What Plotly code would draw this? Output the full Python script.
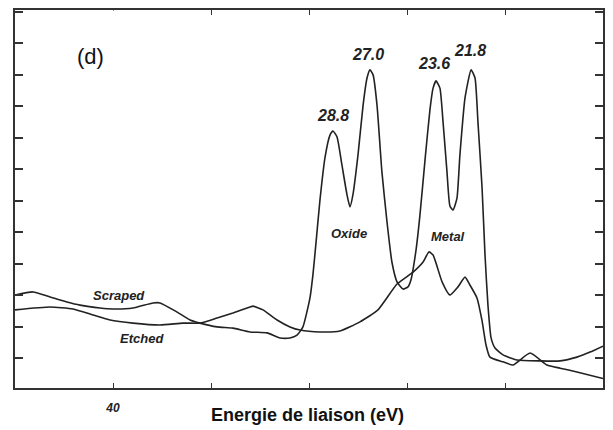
import plotly.graph_objects as go

# binding energy (eV) and intensity (a.u.)
scraped_ev = [45.0, 44.08, 43.21, 42.35, 41.68, 40.66, 40.0, 38.98, 37.96, 37.6, 36.73,
              36.07, 35.56, 34.69, 33.88, 33.01, 32.14, 31.48, 30.97, 30.61, 30.31,
              29.95, 29.8, 29.64, 29.44, 29.18, 28.93, 28.78, 28.57, 28.32, 28.06, 27.91,
              27.76, 27.5, 27.24, 27.04, 26.89, 26.73, 26.53, 26.28, 26.02, 25.77, 25.51,
              25.2, 24.95, 24.8, 24.54, 24.34, 24.08, 23.83, 23.67, 23.52, 23.32, 23.16,
              22.96, 22.81, 22.65, 22.45, 22.3, 22.04, 21.73, 21.53, 21.38, 21.17, 21.02,
              20.87, 20.71, 20.51, 20.1, 19.39, 18.21, 17.19, 16.33, 15.66, 15.0]
scraped_i = [2.95, 3.05, 2.89, 2.73, 2.63, 2.54, 2.51, 2.54, 2.70, 2.70, 2.41,
             2.16, 2.06, 1.94, 1.90, 1.78, 1.75, 1.59, 1.59, 1.68, 1.94,
             2.86, 3.59, 4.63, 5.97, 7.33, 8.03, 8.16, 7.97, 7.08, 6.13, 5.75,
             6.13, 7.40, 8.98, 9.84, 10.1, 9.94, 8.98, 6.86, 5.27, 4.0, 3.37,
             3.14, 3.21, 3.43, 4.38, 5.49, 7.24, 8.83, 9.52, 9.75, 9.52, 8.44,
             6.86, 5.78, 5.65, 6.03, 7.40, 9.21, 10.1, 9.84, 8.44, 6.35, 4.22,
             2.63, 1.59, 1.27, 1.05, 0.89, 0.86, 0.86, 0.98, 1.14, 1.33]

etched_ev = [45.0, 43.21, 42.04, 41.02, 40.15, 38.98, 37.6, 36.43, 35.56, 34.69, 33.88,
             33.01, 32.86, 32.35, 31.63, 30.97, 30.46, 29.44, 28.42, 27.4, 26.48, 25.51,
             24.69, 24.18, 23.88, 23.67, 23.21, 22.81, 22.4, 22.04, 21.79, 21.43, 21.17,
             20.97, 20.77, 20.1, 19.59, 18.72, 17.86, 17.19, 16.33, 15.0]
etched_i = [2.48, 2.57, 2.51, 2.32, 2.16, 2.06, 2.00, 2.06, 2.06, 2.22, 2.38,
            2.57, 2.60, 2.48, 2.16, 1.94, 1.84, 1.78, 1.81, 2.10, 2.48, 3.30,
            3.68, 4.00, 4.32, 4.22, 3.37, 2.95, 3.21, 3.52, 3.27, 2.86, 2.13,
            1.37, 0.98, 0.83, 0.73, 1.11, 0.73, 0.63, 0.51, 0.30]

peak_ev = [28.8, 27.0, 23.6, 21.8]
peak_labels = ["28.8", "27.0", "23.6", "21.8"]
peak_label_i = [8.65, 10.6, 10.3, 10.7]

x_ticks = [40, 35, 30, 25, 20]
x_ticktext = ["<b><i>40</i></b>", "", "", "", ""]

fig = go.Figure()

for xs, ys in [(scraped_ev, scraped_i), (etched_ev, etched_i)]:
    fig.add_trace(go.Scatter(
        x=xs, y=ys, mode="lines",
        line=dict(color="#222222", width=1.6, shape="spline", smoothing=0.5),
        hoverinfo="skip", showlegend=False
    ))

for ev, lab, yi in zip(peak_ev, peak_labels, peak_label_i):
    fig.add_annotation(x=ev, y=yi, text=f"<b><i>{lab}</i></b>", showarrow=False,
                       font=dict(size=16, color="#222222"))

# curve labels
for ev, yi, lab in [(27.95, 4.9, "Oxide"), (22.9, 4.8, "Metal"),
                    (39.7, 2.95, "Scraped"), (38.5, 1.58, "Etched")]:
    fig.add_annotation(x=ev, y=yi, text=f"<b><i>{lab}</i></b>", showarrow=False,
                       font=dict(size=13, color="#222222"))

# plot area: 588 x 378 px
fig.add_annotation(xref="paper", yref="paper", x=60 / 588, y=1 - 32 / 378,
                   text="(d)", showarrow=False, font=dict(size=22, color="#111111"))

fig.add_annotation(x=0.498, y=-0.071, xref="paper", yref="paper",
                   text="<b>Energie de liaison (eV)</b>", showarrow=False,
                   font=dict(size=18, color="#111111"), yanchor="middle")

# gap in the top frame of the scan (annotation box drawn over the axis line)
fig.add_annotation(xref="paper", yref="paper", x=0.1216, y=1, text=" ", showarrow=False,
                   width=97, height=5, bgcolor="white", borderpad=0,
                   font=dict(size=2))

# page body has an 8px margin, so the figure is 8px smaller than the window
fig.update_layout(
    width=605, height=422,
    margin=dict(l=7, r=10, t=2, b=42),
    paper_bgcolor="white", plot_bgcolor="white",
    font=dict(family="Liberation Sans, Arial, sans-serif", color="#222222"),
)
fig.update_xaxes(range=[45, 15], tickvals=x_ticks, ticktext=x_ticktext,
                 ticks="inside", ticklen=5, tickwidth=1.3, tickcolor="#333",
                 showline=True, linecolor="#333", linewidth=1.5, mirror="ticks",
                 showgrid=False, zeroline=False, tickfont=dict(size=12),
                 ticklabelstandoff=8, automargin=False)
fig.update_yaxes(range=[0, 12], tick0=0.95, dtick=1.0, showticklabels=False,
                 ticks="inside", ticklen=8, tickwidth=1.5, tickcolor="#333",
                 showline=True, linecolor="#333", linewidth=1.5, mirror="ticks",
                 showgrid=False, zeroline=False, automargin=False)

fig.write_html("out.html")
